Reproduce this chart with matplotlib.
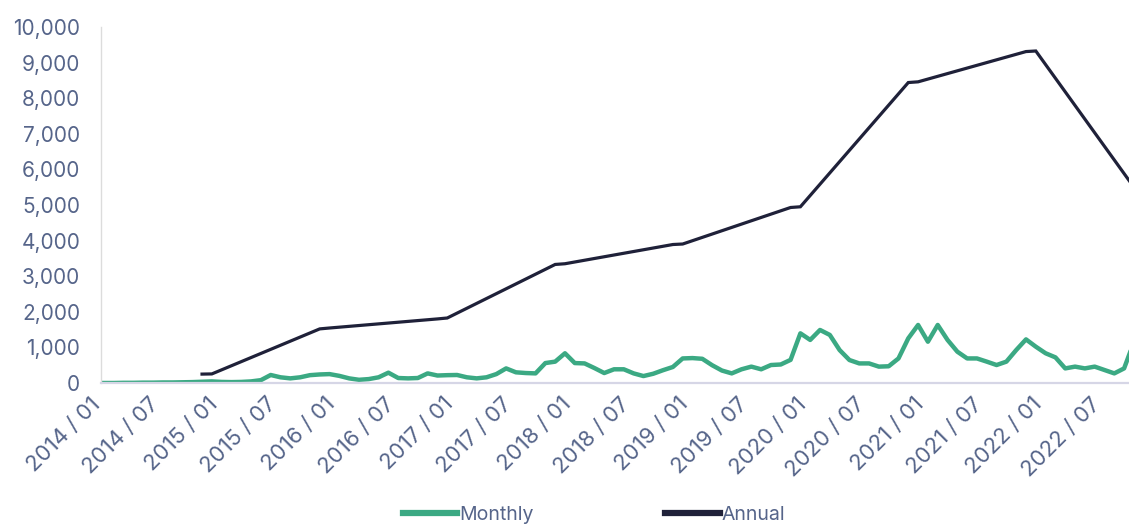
import matplotlib
matplotlib.use("Agg")
import matplotlib.pyplot as plt

# ---- data ----
monthly = [0, 0, 5, 5, 10, 10, 15, 15, 20, 25,
           35, 45, 30, 25, 30, 45, 80, 225, 160, 130,
           160, 220, 240, 250, 200, 130, 90, 110, 160, 290,
           140, 130, 140, 270, 210, 220, 225, 160, 130, 160,
           250, 410, 300, 280, 270, 560, 600, 835, 560, 550,
           420, 280, 385, 385, 270, 195, 260, 360, 450, 690,
           700, 680, 500, 350, 270, 385, 460, 385, 505, 520,
           650, 1395, 1210, 1490, 1350, 925, 645, 550, 550, 460,
           470, 690, 1255, 1630, 1160, 1630, 1210, 880, 690, 690,
           600, 505, 600, 925, 1225, 1020, 835, 720, 410, 460,
           410, 460, 365, 270, 410, 1150]

annual_idx = [10, 11, 22, 23, 34, 35, 46, 47, 58, 59, 70, 71, 82, 83, 94, 95, 105]
annual_val = [250, 255, 1520, 1545, 1800, 1826, 3330, 3350, 3890, 3904,
              4930, 4950, 8440, 8460, 9310, 9326, 5500]

tick_pos = [0, 6, 12, 18, 24, 30, 36, 42, 48, 54, 60, 66, 72, 78, 84, 90, 96, 102]
tick_labels = ["2014 / 01", "2014 / 07", "2015 / 01", "2015 / 07", "2016 / 01",
               "2016 / 07", "2017 / 01", "2017 / 07", "2018 / 01", "2018 / 07",
               "2019 / 01", "2019 / 07", "2020 / 01", "2020 / 07", "2021 / 01",
               "2021 / 07", "2022 / 01", "2022 / 07"]
y_ticks = [0, 1000, 2000, 3000, 4000, 5000, 6000, 7000, 8000, 9000, 10000]

# ---- style ----
plt.rcParams['font.family'] = ['Inter', 'DejaVu Sans']
GREEN = "#3ba983"
NAVY = "#1f2139"
TXT = "#56658a"

fig = plt.figure(figsize=(11.29, 5.28), dpi=100)
ax = fig.add_axes([101 / 1129, 145 / 528, 1 - 101 / 1129, 356 / 528])

ax.plot(range(len(monthly)), monthly, color=GREEN, lw=3.2, label="Monthly",
        solid_joinstyle="round")
ax.plot(annual_idx, annual_val, color=NAVY, lw=2.3, label="Annual",
        solid_joinstyle="miter")

ax.set_xlim(-0.3, 104.5)
ax.set_ylim(0, 10000)
ax.set_yticks(y_ticks)
ax.set_yticklabels([f"{v:,}" for v in y_ticks])
ax.set_xticks(tick_pos)
ax.set_xticklabels(tick_labels, rotation=45, ha="right", va="bottom",
                   rotation_mode="anchor")

ax.tick_params(axis="y", length=0, colors=TXT, labelsize=15, pad=15)
ax.tick_params(axis="x", length=0, colors=TXT, labelsize=16, pad=18)

for s in ["top", "right"]:
    ax.spines[s].set_visible(False)
ax.spines["left"].set_color("#dcdcdc")
ax.spines["left"].set_linewidth(1.0)
ax.spines["bottom"].set_color("#d6d6e6")
ax.spines["bottom"].set_linewidth(1.6)

leg = fig.legend(loc="center", bbox_to_anchor=(594 / 1129, 13 / 528), ncol=2,
                 frameon=False, fontsize=14, handlelength=2.8,
                 handletextpad=0.1, columnspacing=6.8, borderaxespad=0)
for h in leg.get_lines():
    h.set_linewidth(4.5)
for t in leg.get_texts():
    t.set_color(TXT)

fig.savefig("out.png", dpi=100)
